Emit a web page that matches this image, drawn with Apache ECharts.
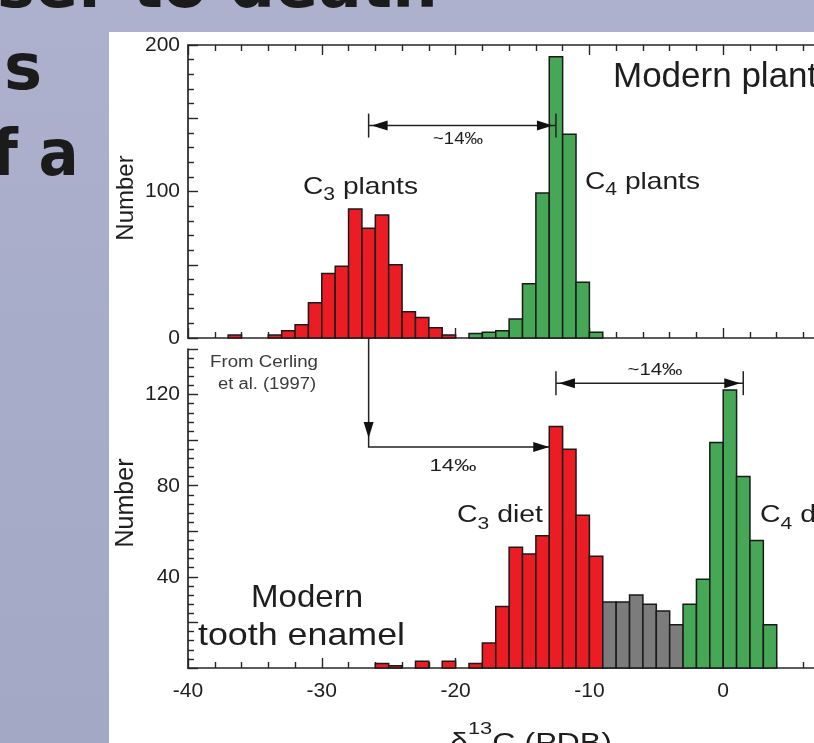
<!DOCTYPE html>
<html><head><meta charset="utf-8">
<script src="https://cdn.jsdelivr.net/npm/echarts@6/dist/echarts.min.js"></script>
<style>
html,body{margin:0;padding:0;}
body{background:linear-gradient(180deg,#adb1cd 0%,#a6abc7 60%,#a3a8c4 100%);}
#c{width:814px;height:743px;}
</style>
</head><body><div id="c"></div>
<script>
// ---------------- data (bin left edge in ‰, bin width 1‰) ----------------
const binWidth = 1;
// Modern plants (top panel)
const plantC3Left  = [-37,-34,-33,-32,-31,-30,-29,-28,-27,-26,-25,-24,-23,-22,-21];
const plantC3Count = [2,2,5,9,24,44,49,88,75,84,50,18,14,7,2];
const plantC4Left  = [-19,-18,-17,-16,-15,-14,-13,-12,-11,-10];
const plantC4Count = [3,4,5,13,37,99,192,139,38,4];
// Modern tooth enamel (bottom panel)
const enamelC3Left  = [-26,-25,-23,-21,-19,-18,-17,-16,-15,-14,-13,-12,-11,-10];
const enamelC3Count = [2,1,3,3,2,11,27,53,50,58,106,96,67,49];
const enamelMixLeft  = [-9,-8,-7,-6,-5,-4];
const enamelMixCount = [29,29,32,28,25,19];
const enamelC4Left  = [-3,-2,-1,0,1,2,3];
const enamelC4Count = [28,39,99,122,84,56,19];
// tick labels
const xTickLabels = [-40,-30,-20,-10,0];
const topYTickLabels = [0,100,200];
const bottomYTickLabels = [40,80,120];
// annotation values
const plantSpan  = {from:-26.5, to:-12.5, y:145};
const enamelSpan = {from:-12.5, to:1.5, y:125};
const shift = {x:-26.5, y:97, to:-13};

// ---------------- styles ----------------
const RED='#ec1c24', GREEN='#46a757', GRAY='#7c7c7c', EDGE='#1a1a1a', INK='#1e1e1e', AX='#262626';
const FF='"Liberation Sans", Arial, Helvetica, sans-serif';

const chart = echarts.init(document.getElementById('c'), null, {renderer:'canvas'});

function bins(left, count){ return left.map((l,i)=>[l, l+binWidth, count[i]]); }
function binSeries(name, grid, data, color){
  return {
    type:'custom', name, xAxisIndex: grid===0?0:2, yAxisIndex: grid,
    data, encode:{x:[0,1], y:2}, silent:true, animation:false, z:3,
    renderItem(params, api){
      const a = api.coord([api.value(0), 0]);
      const b = api.coord([api.value(1), api.value(2)]);
      return {type:'rect', shape:{x:a[0], y:b[1], width:b[0]-a[0], height:a[1]-b[1]},
        style:{fill:color, stroke:EDGE, lineWidth:1.5}};
    }
  };
}
const lineSt = {color:AX, width:1.7};
function xAx(grid, pos, showLabels){
  return {type:'value', gridIndex:grid, position:pos, min:-40, max:10, interval:10,
    axisLine:{show:true, onZero:false, lineStyle:lineSt},
    axisTick:{show:true, inside:true, length:10, lineStyle:{color:AX, width:1.4}},
    minorTick:{show:true, splitNumber:5, length:6, lineStyle:{color:AX, width:1.4}},
    splitLine:{show:false}, minorSplitLine:{show:false},
    axisLabel: showLabels ? {show:true, margin:13, color:INK, fontSize:21, fontFamily:FF,
      formatter:v=> xTickLabels.includes(v) ? String(v) : ''} : {show:false}
  };
}
function yAx(grid, max, interval, labels){
  return {type:'value', gridIndex:grid, min:0, max, interval,
    axisLine:{show:true, onZero:false, lineStyle:lineSt},
    axisTick:{show:true, inside:true, length:10, lineStyle:{color:AX, width:1.4}},
    minorTick:{show:true, splitNumber:5, length:6, lineStyle:{color:AX, width:1.4}},
    splitLine:{show:false}, minorSplitLine:{show:false},
    axisLabel:{show:true, margin:8, color:INK, fontSize:21, fontFamily:FF,
      formatter:v=> labels.includes(v) ? String(v) : ''}
  };
}

chart.setOption({
  backgroundColor:'transparent',
  animation:false,
  grid:[
    {left:188, top:45, height:293, right:-43, outerBoundsMode:'none', containLabel:false},
    {left:188, top:349, height:319, right:-43, outerBoundsMode:'none', containLabel:false}
  ],
  xAxis:[ xAx(0,'bottom',false), xAx(0,'top',false), xAx(1,'bottom',true) ],
  yAxis:[ yAx(0,200,50,topYTickLabels), yAx(1,140,20,bottomYTickLabels) ],
  series:[
    binSeries('C3 plants',0,bins(plantC3Left,plantC3Count),RED),
    binSeries('C4 plants',0,bins(plantC4Left,plantC4Count),GREEN),
    binSeries('C3 diet',1,bins(enamelC3Left,enamelC3Count),RED),
    binSeries('Mixed',1,bins(enamelMixLeft,enamelMixCount),GRAY),
    binSeries('C4 diet',1,bins(enamelC4Left,enamelC4Count),GREEN)
  ]
});

// ---------------- annotations ----------------
const mctx = document.createElement('canvas').getContext('2d');
function tw(font, s){ mctx.font = font; return mctx.measureText(s).width; }
function txt(x, y, text, size, opt={}){
  const font = `${opt.weight||'normal'} ${size}px ${opt.family||FF}`;
  return {type:'text', x, y, rotation:opt.rotation||0, scaleX:opt.sx||1, z:opt.z||50,
    style:{text, font, fill:opt.fill||INK, align:opt.align||'left', verticalAlign:'middle',
      textAlign:opt.align||'left', textVerticalAlign:'middle'}};
}
// pieces: [text, size, dy]; fit total width to target
function seq(x, y, pieces, target){
  const nat = pieces.reduce((s,[t,sz])=>s+tw(`normal ${sz}px ${FF}`,t),0);
  const sx = target ? target/nat : 1;
  let cx = x; const out=[];
  for(const [t,sz,dy] of pieces){
    out.push(txt(cx, y+(dy||0), t, sz, {sx}));
    cx += tw(`normal ${sz}px ${FF}`,t)*sx;
  }
  return out;
}
function fit(x, y, t, size, target, align, fill){
  const sx = target ? target/tw(`normal ${size}px ${FF}`,t) : 1;
  return txt(x, y, t, size, {sx, align, fill});
}
function line(pts, w){ return {type:'polyline', z:40, shape:{points:pts}, style:{stroke:'#222', lineWidth:w||1.5, fill:null}}; }
function head(tip, dir, L=16, H=5){
  const [x,y]=tip; let pts;
  if(dir==='l') pts=[[x,y],[x+L,y-H],[x+L,y+H]];
  if(dir==='r') pts=[[x,y],[x-L,y-H],[x-L,y+H]];
  if(dir==='d') pts=[[x,y],[x-H,y-L],[x+H,y-L]];
  return {type:'polygon', z:41, shape:{points:pts}, style:{fill:'#111'}};
}
function span(P, s){
  const a=P([s.from,s.y]), b=P([s.to,s.y]);
  return [
    line([a,b]),
    line([[a[0],a[1]-12],[a[0],a[1]+12]]),
    line([[b[0],b[1]-12],[b[0],b[1]+12]]),
    head([a[0]+3,a[1]],'l'), head([b[0]-3,b[1]],'r')
  ];
}
const P0 = pt=>chart.convertToPixel({gridIndex:0}, pt);
const P1 = pt=>chart.convertToPixel({gridIndex:1}, pt);

const sA = P0([shift.x,0]), sB = P1([shift.x,shift.y]), sC = P1([shift.to,shift.y]);
const SLIDE = '"DejaVu Sans", Verdana, sans-serif';

const g = [
  {type:'rect', z:-100, shape:{x:109,y:32,width:705,height:711}, style:{fill:'#ffffff'}},
  // slide text behind the figure
  txt(-3, -10, 'ser to death', 64, {weight:'bold', family:SLIDE, fill:'#1b1b1b', z:-90}),
  txt(4, 72, 's', 64, {weight:'bold', family:SLIDE, fill:'#1b1b1b', z:-90}),
  txt(-8, 158, 'f a', 64, {weight:'bold', family:SLIDE, fill:'#1b1b1b', z:-90, sx:0.93}),
  // axis titles
  txt(126, 198, 'Number', 24, {rotation:Math.PI/2, align:'center'}),
  txt(126, 503, 'Number', 25, {rotation:Math.PI/2, align:'center'}),
  ...seq(450, 744, [['δ',25,0],['13',17,-15],['C (PDB)',25,0]], 162),
  // panel labels
  txt(613, 77, 'Modern plants', 35),
  ...seq(303, 187, [['C',24,0],['3',18,8],[' plants',24,0]], 115),
  ...seq(585, 182, [['C',24,0],['4',18,8],[' plants',24,0]], 115),
  ...seq(457, 516, [['C',23,0],['3',17,8],[' diet',23,0]], 86),
  ...seq(760, 516, [['C',23,0],['4',17,8],[' diet',23,0]], 86),
  fit(307, 598, 'Modern', 32, 112, 'center'),
  fit(198, 636, 'tooth enamel', 32, 207, 'left'),
  fit(264, 363, 'From Cerling', 16, 108, 'center', '#3a3a3a'),
  fit(267, 385, 'et al. (1997)', 16, 98, 'center', '#3a3a3a'),
  fit(458, 139, '~14‰', 17, 50, 'center'),
  fit(655, 370, '~14‰', 17, 55, 'center'),
  fit(453, 466, '14‰', 17, 47, 'center'),
  // arrows
  ...span(P0, plantSpan),
  ...span(P1, enamelSpan),
  line([sA, sB, sC]),
  head([sB[0], sB[1]-9],'d'),
  head(sC,'r')
];
chart.setOption({graphic:{elements:g}});
</script>
</body></html>
